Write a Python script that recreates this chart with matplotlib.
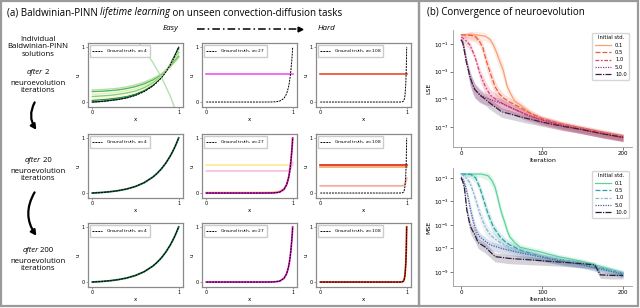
import numpy as np
import matplotlib
matplotlib.use("Agg")
import matplotlib.pyplot as plt
from matplotlib.patches import Rectangle, FancyArrowPatch

# ---------------- data: left grid (u over x) ----------------
X_FINE = [0, 0.1, 0.2, 0.3, 0.4, 0.5, 0.6, 0.7, 0.75, 0.8, 0.85, 0.9,
          0.93, 0.95, 0.96, 0.97, 0.98, 0.99, 0.995, 1.0]
GT_A4 = [0, 0.0092, 0.0229, 0.0433, 0.0738, 0.1192, 0.187, 0.2882, 0.3561,
         0.4391, 0.5404, 0.6642, 0.7512, 0.8153, 0.8494, 0.8848, 0.9217,
         0.9601, 0.9799, 1.0]
GT_A27 = [0, 0, 0, 0, 0, 0, 0, 0.0003, 0.0012, 0.0045, 0.0174, 0.0672,
          0.1511, 0.2592, 0.3396, 0.4449, 0.5827, 0.7634, 0.8737, 1.0]
GT_A108 = [0, 0, 0, 0, 0, 0, 0, 0, 0, 0, 0, 0, 0.0005, 0.0045, 0.0133,
           0.0392, 0.1153, 0.3396, 0.5827, 1.0]
TASK_A = [4, 27, 108]

X_COARSE = [0, 0.1, 0.2, 0.3, 0.4, 0.5, 0.6, 0.7, 0.8, 0.9, 1.0]
# after 2 iterations, easy task: family of PINN solutions
gen2_easy = [
    [0.0, 0.01, 0.03, 0.05, 0.08, 0.13, 0.20, 0.30, 0.45, 0.67, 0.99],
    [0.03, 0.04, 0.055, 0.075, 0.10, 0.145, 0.21, 0.31, 0.45, 0.66, 0.96],
    [0.06, 0.07, 0.085, 0.105, 0.13, 0.17, 0.235, 0.33, 0.465, 0.66, 0.93],
    [0.10, 0.11, 0.12, 0.14, 0.165, 0.20, 0.26, 0.35, 0.48, 0.655, 0.90],
    [0.14, 0.15, 0.16, 0.18, 0.205, 0.24, 0.295, 0.375, 0.49, 0.65, 0.87],
    [0.19, 0.195, 0.205, 0.22, 0.245, 0.28, 0.33, 0.40, 0.50, 0.64, 0.83],
    [0.22, 0.225, 0.235, 0.25, 0.275, 0.31, 0.36, 0.425, 0.51, 0.63, 0.80],
]
gen2_easy_colors = ["#004529", "#238443", "#f7fcb9", "#78c679", "#d9f0a3",
                    "#41ab5d", "#addd8e"]
gen2_easy_odd = [2.2, 2.0, 1.8, 1.6, 1.38, 1.15, 0.95, 0.72, 0.45, 0.12, -0.3]
gen2_flat = 0.5
gen20_mid_flat = [0.51, 0.40]
gen20_mid_near = [0.012, 0.012, 0.012, 0.012, 0.012, 0.012, 0.012, 0.013,
                  0.015, 0.02, 0.035, 0.08, 0.16, 0.27, 0.35, 0.45, 0.59,
                  0.77, 0.88, 1.0]
gen20_pink_tail = [0.40, 0.40, 0.40, 0.40, 0.40, 0.40, 0.40, 0.40, 0.40,
                   0.40, 0.40, 0.40, 0.40, 0.41, 0.42, 0.43, 0.45, 0.49,
                   0.52, 0.56]
gen20_hard_flat = [0.51, 0.48]
gen20_hard_low = [0.13, 0.13, 0.13, 0.13, 0.13, 0.13, 0.13, 0.13, 0.13,
                  0.13, 0.13, 0.13, 0.13, 0.13, 0.135, 0.14, 0.16, 0.20,
                  0.23, 0.27]

# ---------------- data: convergence (log10 of loss) ----------------
STD_LABELS = ["0.1", "0.5", "1.0", "5.0", "10.0"]
lse_iter = [
    [0, 20, 30, 36, 40, 44, 48, 52, 57, 62, 66, 75, 81, 90, 98, 120, 150, 175, 200],
    [0, 12, 18, 23, 27, 31, 36, 42, 47, 52, 60, 73, 85, 100, 125, 150, 175, 200],
    [0, 5, 11, 17, 23, 30, 36, 45, 54, 65, 80, 100, 125, 150, 175, 200],
    [0, 3, 5, 8, 11, 14, 17, 23, 30, 40, 50, 65, 80, 100, 125, 150, 175, 200],
    [0, 2, 4, 6, 9, 11, 14, 17, 23, 30, 36, 50, 75, 100, 125, 150, 175, 200],
]
lse_log = [
    [-0.35, -0.36, -0.45, -0.7, -1.1, -1.65, -2.3, -2.9, -4.1, -4.7, -5.1,
     -5.5, -5.8, -6.2, -6.5, -6.8, -7.2, -7.45, -7.7],
    [-0.35, -0.37, -0.5, -0.85, -1.3, -2.2, -3.1, -4.1, -4.6, -4.9, -5.2,
     -5.6, -6.0, -6.4, -6.8, -7.1, -7.4, -7.7],
    [-0.5, -0.7, -1.1, -1.9, -3.1, -4.1, -4.7, -5.1, -5.4, -5.7, -6.1, -6.5,
     -6.9, -7.2, -7.5, -7.8],
    [-0.7, -1.1, -1.65, -2.6, -3.4, -3.9, -4.3, -4.65, -4.9, -5.1, -5.3,
     -5.7, -6.1, -6.5, -6.9, -7.2, -7.5, -7.75],
    [-0.7, -0.9, -1.5, -2.2, -2.9, -3.4, -3.9, -4.3, -4.7, -5.0, -5.3, -5.9,
     -6.3, -6.65, -6.95, -7.2, -7.5, -7.75],
]
lse_spread = [0.1, 0.4, 0.35, 0.3, 0.5, 0.6, 0.6, 0.6, 0.5, 0.45, 0.45,
              0.4, 0.35, 0.3, 0.3, 0.3, 0.3, 0.3, 0.3, 0.3]
mse_iter = [
    [0, 25, 33, 38, 42, 45, 48, 51, 54, 57, 60, 66, 73, 85, 98, 120, 150, 175, 200],
    [0, 12, 18, 23, 28, 33, 37, 40, 44, 48, 54, 60, 75, 100, 125, 150, 175, 200],
    [0, 5, 11, 17, 23, 30, 36, 42, 48, 60, 80, 100, 125, 150, 175, 200],
    [0, 3, 6, 9, 11, 14, 17, 20, 23, 30, 36, 50, 75, 100, 125, 150, 175, 200],
    [0, 2, 4, 7, 10, 12, 15, 17, 21, 30, 42, 60, 90, 120, 150, 165, 172, 185, 200],
]
mse_log = [
    [-0.66, -0.67, -0.8, -1.2, -1.8, -2.6, -3.5, -4.2, -4.8, -5.5, -6.0,
     -6.5, -6.9, -7.1, -7.3, -7.7, -8.1, -8.6, -9.1],
    [-0.66, -0.7, -1.0, -1.8, -2.9, -4.0, -4.7, -5.2, -5.6, -6.0, -6.4,
     -6.7, -7.2, -7.7, -8.0, -8.3, -8.7, -9.1],
    [-0.66, -0.9, -1.4, -2.6, -4.0, -5.2, -5.85, -6.2, -6.5, -6.9, -7.4,
     -7.7, -8.0, -8.3, -8.7, -9.1],
    [-0.9, -1.2, -1.85, -2.8, -3.5, -4.4, -5.2, -5.7, -6.0, -6.4, -6.7, -7.0,
     -7.4, -7.75, -8.1, -8.4, -8.8, -9.2],
    [-1.0, -1.3, -1.8, -3.7, -4.7, -5.2, -5.6, -5.85, -6.5, -6.9, -7.7, -7.85,
     -8.0, -8.15, -8.3, -8.4, -9.25, -9.3, -9.3],
]
mse_spread = [0.1, 0.3, 0.4, 0.5, 0.6, 0.6, 0.6, 0.55, 0.5, 0.5, 0.45,
              0.45, 0.4, 0.35, 0.35, 0.3, 0.3, 0.3, 0.3, 0.3]

LSE_COLORS = ["#f8a075", "#ef5a3c", "#d8456e", "#a8337f", "#3b1f48"]
MSE_COLORS = ["#5cd39c", "#2fa3a6", "#8fb6d2", "#4662a4", "#2b1d3d"]
DASHES = [(None, None), (4, 1.5), (3, 1.25, 1.5, 1.25), (1, 1), (5, 1, 1, 1)]

W, H = 640, 308
TXT = ["Open Sans", "DejaVu Sans"]


def px_axes(fig, left, top, w, h):
    return fig.add_axes([left / W, 1 - (top + h) / H, w / W, h / H])


def text_width(ov, s, size, style="normal"):
    # width in px incl. leading/trailing spaces (measured against a bar)
    r = ov.figure.canvas.get_renderer()
    a = ov.text(0, 0, "|" + s + "|", fontsize=size, family=TXT, style=style)
    b = ov.text(0, 0, "||", fontsize=size, family=TXT, style=style)
    w = a.get_window_extent(r).width - b.get_window_extent(r).width
    a.remove()
    b.remove()
    return w


def mixed_text(ov, x, y, pieces, size, ha="left"):
    widths = [text_width(ov, p, size, st) for p, st in pieces]
    if ha == "center":
        x -= sum(widths) / 2
    for (p, st), w in zip(pieces, widths):
        ov.text(x, y, p, fontsize=size, family=TXT, style=st,
                va="center", ha="left")
        x += w


def style_small(ax, a):
    ax.set_xlim(-0.05, 1.05)
    ax.set_ylim(-0.09, 1.07)
    ax.set_xticks([0, 1])
    ax.set_yticks([0, 1])
    ax.tick_params(labelsize=3.5, length=1.5, width=0.4, pad=1,
                   color="#555555")
    ax.set_xlabel("x", fontsize=4, labelpad=1)
    ax.set_ylabel("u", fontsize=4, labelpad=1)
    for s in ax.spines.values():
        s.set_color("#8a8a8a")
        s.set_linewidth(0.9)
    ax.legend(loc="upper left", fontsize=3.2, handlelength=2.2,
              borderpad=0.5, frameon=True, fancybox=False,
              edgecolor="#cccccc", framealpha=1)


def plot_gt(ax, gt, a):
    ax.plot(X_FINE, gt, color="black", lw=0.7, ls=(0, (2, 1)),
            label="Ground truth, $a$=%d" % a, zorder=5)


def convergence(ax, iters, logs, spread, colors, ylab, ylim, yticks):
    for i in range(len(iters)):
        it = np.array(iters[i])
        lv = np.array(logs[i])
        sp = np.array(spread[:len(it)])
        ax.fill_between(it, 10 ** (lv - sp), 10 ** (lv + sp * 0.7),
                        color=colors[i], alpha=0.2, lw=0)
        line, = ax.plot(it, 10 ** lv, color=colors[i], lw=0.9,
                        label=STD_LABELS[i])
        if DASHES[i][0] is not None:
            line.set_dashes(DASHES[i])
    ax.set_yscale("log")
    ax.set_ylim(*ylim)
    ax.set_xlim(-10, 211)
    ax.set_yticks(yticks)
    ax.minorticks_off()
    ax.set_xticks([0, 100, 200])
    ax.tick_params(labelsize=4, length=2, width=0.5, pad=1, color="#444444")
    ax.set_xlabel("Iteration", fontsize=4.5, labelpad=1)
    ax.set_ylabel(ylab, fontsize=4.5, labelpad=2)
    for s in ["top", "right"]:
        ax.spines[s].set_visible(False)
    for s in ["left", "bottom"]:
        ax.spines[s].set_color("#999999")
        ax.spines[s].set_linewidth(0.6)
    ax.legend(title="Initial std.", fontsize=3.8, title_fontsize=3.8,
              loc="upper right", handlelength=3, borderpad=0.5,
              labelspacing=0.45, fancybox=True, edgecolor="#cccccc")


fig = plt.figure(figsize=(6.4, 3.08), dpi=100)

# overlay in pixel coords for headings, borders and arrows
ov = fig.add_axes([0, 0, 1, 1])
ov.set_xlim(0, W)
ov.set_ylim(H, 0)
ov.axis("off")
ov.add_patch(Rectangle((1, 1), 418, 305, fill=False, ec="#9a9a9a", lw=1.6))
ov.add_patch(Rectangle((419, 1), 219, 305, fill=False, ec="#9a9a9a", lw=1.6))
fig.canvas.draw()

mixed_text(ov, 7, 13, [("(a) Baldwinian-PINN ", "normal"),
                       ("lifetime learning", "italic"),
                       (" on unseen convection-diffusion tasks", "normal")],
           7.0)
ov.text(427, 13, "(b) Convergence of neuroevolution", fontsize=7.0,
        family=TXT, va="center", ha="left")

ov.text(178, 29, "Easy", fontsize=5.8, family=TXT, style="italic",
        ha="right", va="center")
ov.text(318, 29, "Hard", fontsize=5.8, family=TXT, style="italic",
        ha="left", va="center")
ov.plot([197, 298], [29, 29], color="black", lw=1.1, ls=(0, (5, 2, 1, 2)))
ov.plot([300], [29], marker=">", color="black", ms=3.5)

ov.text(38, 47, "Individual\nBaldwinian-PINN\nsolutions", fontsize=5.6,
        family=TXT, ha="center", va="center", linespacing=1.15)
for yy, n in [(72, "2"), (160, "20"), (250, "200")]:
    mixed_text(ov, 38, yy, [("after", "italic"), (" " + n, "normal")], 5.6,
               ha="center")
    ov.text(38, yy + 15, "neuroevolution\niterations", fontsize=5.6,
            family=TXT, ha="center", va="center", linespacing=1.15)
for ys, ye in [(100, 132), (190, 238)]:
    ov.add_patch(FancyArrowPatch((36, ys), (38, ye),
                                 connectionstyle="arc3,rad=0.35",
                                 arrowstyle="-|>,head_length=3,head_width=1.6",
                                 color="black", lw=1.6))

# ---------------- left 3x3 grid ----------------
col_left = [88, 202, 316]
row_top = [43, 134, 223]
gts = [GT_A4, GT_A27, GT_A108]
axs = [[px_axes(fig, col_left[c], row_top[r_], 95, 64) for c in range(3)]
       for r_ in range(3)]

# after 2 iterations
ax = axs[0][0]
for vals, col in zip(gen2_easy, gen2_easy_colors):
    ax.plot(X_COARSE, vals, color=col, lw=1.0, alpha=0.9)
ax.plot(X_COARSE, gen2_easy_odd, color="#a1d99b", lw=1.0, alpha=0.8)
axs[0][1].plot([0, 1], [gen2_flat, gen2_flat], color="#f055ea", lw=1.2)
axs[0][2].plot([0, 1], [gen2_flat, gen2_flat], color="#ea4a2a", lw=1.2)

# after 20 iterations
axs[1][0].plot(X_FINE, GT_A4, color="#1f6b45", lw=1.3)
ax = axs[1][1]
ax.plot([0, 1], [gen20_mid_flat[0]] * 2, color="#f7ee92", lw=1.2)
ax.plot(X_FINE, gen20_pink_tail, color="#f8bde2", lw=1.2)
ax.plot(X_FINE, gen20_mid_near, color="#f3c06a", lw=1.2, alpha=0.7)
ax.plot(X_FINE, GT_A27, color="#e020c4", lw=1.3)
ax = axs[1][2]
ax.plot([0, 1], [gen20_hard_flat[1]] * 2, color="#f5a66c", lw=1.2)
ax.plot([0, 1], [gen20_hard_flat[0]] * 2, color="#e02400", lw=1.2)
ax.plot(X_FINE, gen20_hard_low, color="#f8aca2", lw=1.3)

# after 200 iterations
axs[2][0].plot(X_FINE, GT_A4, color="#1f6b45", lw=1.3)
axs[2][1].plot(X_FINE, GT_A27, color="#e020c4", lw=1.3)
axs[2][2].plot(X_FINE, GT_A108, color="#e02a10", lw=1.3)

for r_ in range(3):
    for c in range(3):
        plot_gt(axs[r_][c], gts[c], TASK_A[c])
        style_small(axs[r_][c], TASK_A[c])

# ---------------- right: convergence ----------------
ax_l = px_axes(fig, 453, 30, 179, 117)
convergence(ax_l, lse_iter, lse_log, lse_spread, LSE_COLORS, "LSE",
            (10 ** -8.45, 10 ** 0.0), [1e-1, 1e-3, 1e-5, 1e-7])
ax_m = px_axes(fig, 453, 168, 179, 118)
convergence(ax_m, mse_iter, mse_log, mse_spread, MSE_COLORS, "MSE",
            (10 ** -10.2, 10 ** -0.15), [1e-1, 1e-3, 1e-5, 1e-7, 1e-9])

fig.savefig("out.png", dpi=100)
